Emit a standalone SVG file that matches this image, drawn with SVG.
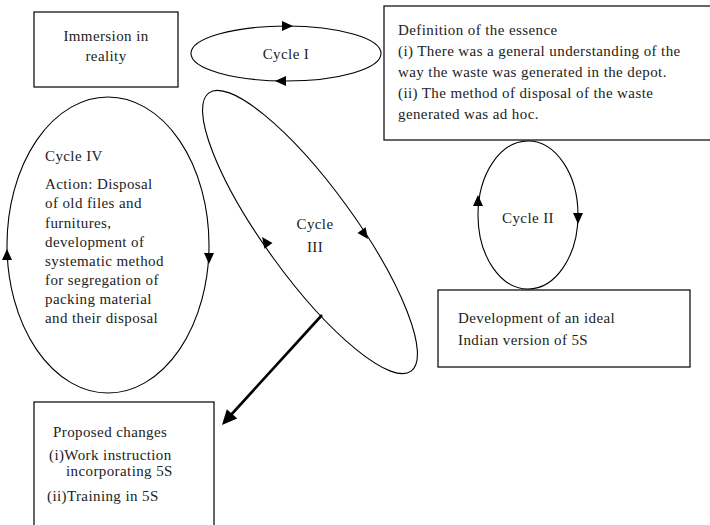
<svg xmlns="http://www.w3.org/2000/svg" xmlns:xlink="http://www.w3.org/1999/xlink" width="710" height="525" viewBox="0 0 710 525">
<style>
.box{fill:#fff;stroke:#000;stroke-width:1.2}
.cyc{fill:none;stroke:#000;stroke-width:1.1}
text{font-family:"Liberation Serif","Times New Roman",serif;font-size:15px;letter-spacing:0.4px;fill:#222}
.c{text-anchor:middle}
</style>
<defs>
<path id="ah" d="M0,0 L-11,-5 L-11,5 Z" fill="#000"/>
<path id="ahb" d="M0,0 L-15,-7 L-15,7 Z" fill="#000"/>
</defs>
<rect width="710" height="525" fill="#fff"/>
<g id="immersion">
<rect class="box" x="34" y="12" width="144" height="75"/>
<text class="c" x="106" y="41">Immersion in</text>
<text class="c" x="106" y="61">reality</text>
</g>
<g id="definition">
<rect class="box" x="384" y="6" width="330" height="134"/>
<text x="398" y="35">Definition of the essence</text>
<text x="398" y="56">(i) There was a general understanding of the</text>
<text x="398" y="77">way the waste was generated in the depot.</text>
<text x="398" y="98">(ii) The method of disposal of the waste</text>
<text x="398" y="119">generated was ad hoc.</text>
</g>
<g id="cycle1">
<ellipse class="cyc" cx="286" cy="53.5" rx="95" ry="27.5"/>
<text class="c" x="286" y="59">Cycle I</text>
</g>
<g id="cycle4">
<ellipse class="cyc" cx="108" cy="245" rx="101" ry="148"/>
<text x="45" y="161">Cycle IV</text>
<text x="45" y="189">Action: Disposal</text>
<text x="45" y="208">of old files and</text>
<text x="45" y="228">furnitures,</text>
<text x="45" y="247">development of</text>
<text x="45" y="266">systematic method</text>
<text x="45" y="285">for segregation of</text>
<text x="45" y="304">packing material</text>
<text x="45" y="323">and their disposal</text>
</g>
<g id="cycle3">
<ellipse class="cyc" cx="0" cy="0" rx="172" ry="45" transform="translate(310 232) rotate(54)"/>
<text class="c" x="315" y="229">Cycle</text>
<text class="c" x="315" y="252">III</text>
</g>
<g id="cycle2">
<ellipse class="cyc" cx="528" cy="215" rx="50" ry="74"/>
<text class="c" x="528" y="223">Cycle II</text>
</g>
<g id="development">
<rect class="box" x="438" y="290" width="252" height="77"/>
<text x="458" y="323">Development of an ideal</text>
<text x="458" y="345">Indian version of 5S</text>
</g>
<g id="proposed">
<rect class="box" x="34" y="402" width="180" height="130"/>
<text x="53" y="437">Proposed changes</text>
<text x="49" y="460">(i)Work instruction</text>
<text x="66" y="476">incorporating 5S</text>
<text x="47" y="501">(ii)Training in 5S</text>
</g>
<g id="connectors">
<use xlink:href="#ah" transform="translate(293 26)"/>
<use xlink:href="#ah" transform="translate(275 81) rotate(180)"/>
<use xlink:href="#ah" transform="translate(7 249) rotate(-90)"/>
<use xlink:href="#ah" transform="translate(209 264) rotate(90)"/>
<use xlink:href="#ah" transform="translate(478 195) rotate(-90)"/>
<use xlink:href="#ah" transform="translate(578 224) rotate(90)"/>
<use xlink:href="#ah" transform="translate(262 237) rotate(234)"/>
<use xlink:href="#ah" transform="translate(368 239) rotate(54)"/>
<line x1="322" y1="315" x2="230" y2="416" stroke="#000" stroke-width="2.6"/>
<use xlink:href="#ahb" transform="translate(222 425) rotate(132)"/>
</g>
</svg>
